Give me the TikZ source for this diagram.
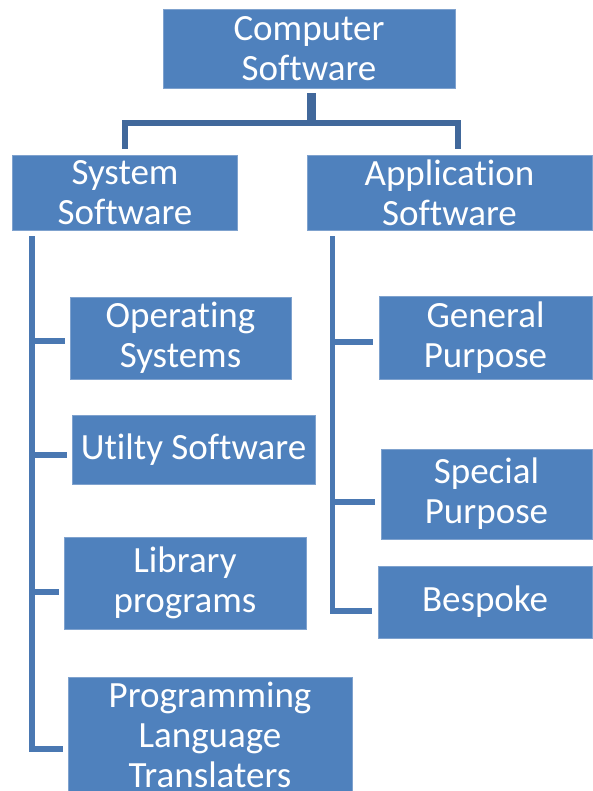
\documentclass[tikz,border=0pt]{standalone}
\usepackage{fontspec}
\setmainfont{Carlito}[Ligatures=CommonOff]
\usetikzlibrary{calc}

\definecolor{boxblue}{HTML}{4F81BD}
\definecolor{boxedge}{HTML}{7FA2CE}
\definecolor{linkblue}{HTML}{4A78B2}
\definecolor{trunkblue}{HTML}{41689B}

\begin{document}
\begin{tikzpicture}[
    x=1pt, y=-1pt,
    item/.style={rectangle, fill=boxblue, draw=boxedge, line width=0.8pt, text=white, align=center, inner sep=0pt, font=\fontsize{37}{40}\selectfont},
    branch/.style={draw=linkblue, line width=5.5pt},
    trunk/.style={draw=trunkblue, line width=6pt}
]
    \useasboundingbox (0,0) rectangle (592,791);

    \node[item, minimum width=292pt, minimum height=79pt] (comp) at (309,48.5) {Computer\\Software};

    \node[item, minimum width=225pt, minimum height=75pt] (sys) at (125,192.5) {System\\Software};
    \node[item, minimum width=285pt, minimum height=75pt] (app) at (449.5,192.5) {Application\\Software};

    % system software branch
    \node[item, minimum width=221pt, minimum height=82pt] (os) at (180.5,338) {Operating\\Systems};
    \node[item, minimum width=243pt, minimum height=69pt] (util) at (193.5,449.5) {Utilty Software};
    \node[item, minimum width=242pt, minimum height=92pt] (lib) at (185,583) {Library\\programs};
    \node[item, minimum width=284pt, minimum height=116pt] (prog) at (210,735) {Programming\\Language\\Translaters};

    % application software branch
    \node[item, minimum width=213pt, minimum height=83pt] (gen) at (485.5,338) {General\\Purpose};
    \node[item, minimum width=211pt, minimum height=90pt] (spec) at (486.5,494) {Special\\Purpose};
    \node[item, minimum width=214pt, minimum height=72pt] (besp) at (485,602) {Bespoke};

    \coordinate (hub) at (311,123);
    \draw[trunk, line width=9pt] ($(comp.south)+(2,5)$) -- (hub);
    \draw[trunk] ($(sys.north)+(-0.5,-6)$) |- (hub) -| ($(app.north)+(8.5,-6)$);

    \coordinate (ltop) at ($(sys.south west)+(20,6)$);
    \foreach \n/\dy in {os/3, util/5.5, lib/9, prog/14}{
        \coordinate (\n-tip) at ($(\n.west)+(-5,\dy)$);
        \draw[branch] (ltop |- \n-tip) -- (\n-tip);
    }
    \draw[branch] (ltop) |- (prog-tip);

    \coordinate (rtop) at ($(app.south west)+(26,6)$);
    \foreach \n/\dy in {gen/4, spec/8, besp/9}{
        \coordinate (\n-tip) at ($(\n.west)+(-6,\dy)$);
        \draw[branch] (rtop |- \n-tip) -- (\n-tip);
    }
    \draw[branch] (rtop) |- (besp-tip);
\end{tikzpicture}
\end{document}
